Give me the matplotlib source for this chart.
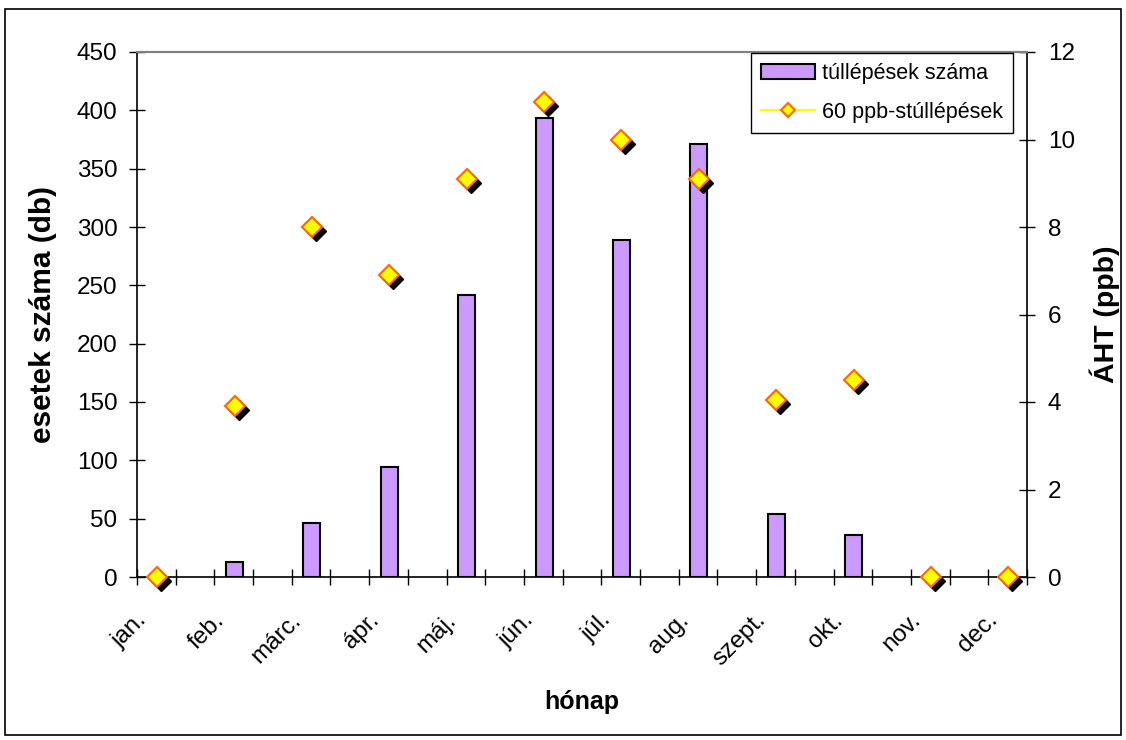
import numpy as np
import matplotlib
matplotlib.use('Agg')
import matplotlib.pyplot as plt
from matplotlib.lines import Line2D
from matplotlib.patches import Patch, Rectangle
from matplotlib.transforms import ScaledTranslation, offset_copy

months = ['jan.', 'feb.', 'márc.', 'ápr.', 'máj.', 'jún.',
          'júl.', 'aug.', 'szept.', 'okt.', 'nov.', 'dec.']
exceedances = [0, 13, 46, 94, 242, 393, 289, 371, 54, 36, 0, 0]
aht_ppb = [0, 3.9, 8.0, 6.9, 9.1, 10.85, 10.0, 9.1, 4.05, 4.5, 0, 0]

plt.rcParams['font.family'] = ['Liberation Sans', 'DejaVu Sans']

fig = plt.figure(figsize=(11.26, 7.40), dpi=100)
W, H = 1126, 740
ax = fig.add_axes([137 / W, 1 - 577 / H, (1027 - 137) / W, (577 - 52) / H])
ax2 = ax.twinx()

x = np.arange(len(months))
ax.bar(x, exceedances, width=0.22, color='#CC99FF', edgecolor='black',
       linewidth=1.5, zorder=3)

# marker drop shadow
shadow = offset_copy(ax2.transData, fig=fig, x=4, y=-4, units='dots')
ax2.plot(x, aht_ppb, linestyle='none', marker='D', markersize=10.5,
         color='black', markeredgecolor='black', transform=shadow,
         clip_on=False, zorder=3)
ax2.plot(x, aht_ppb, linestyle='none', marker='D', markersize=10.5,
         markerfacecolor='#FFFF00', markeredgecolor='#FF6600',
         markeredgewidth=1.5, clip_on=False, zorder=4)

x0 = -0.26
ax.set_xlim(x0, x0 + len(months) - 0.5)
ax.set_ylim(0, 450)
ax2.set_ylim(0, 12)
ax.set_yticks(np.arange(0, 451, 50))
ax2.set_yticks(np.arange(0, 13, 2))
ax.set_xticks(x)
ax.set_xticklabels(months, rotation=45, ha='right', va='top')
ax.set_xticks(np.arange(x0, x0 + len(months) - 0.49, 0.5), minor=True)

ax.tick_params(axis='x', which='major', length=0, pad=23, labelsize=17.5)
ax.tick_params(axis='x', which='minor', direction='inout', length=11,
               width=1, color='black')
ax.tick_params(axis='y', direction='inout', length=12, width=1, pad=8,
               labelsize=17.5)
ax2.tick_params(axis='y', direction='inout', length=12, width=1, pad=9,
                labelsize=17.5)
for lbl in ax.get_xticklabels():
    lbl.set_transform(lbl.get_transform() +
                      ScaledTranslation(-6 / 100, 0, fig.dpi_scale_trans))

for a in (ax, ax2):
    a.spines['top'].set_color('#808080')
    a.spines['top'].set_linewidth(1.5)
ax.spines['right'].set_visible(False)
ax2.spines['left'].set_visible(False)
ax2.spines['bottom'].set_visible(False)
ax.spines['left'].set_linewidth(1.2)
ax.spines['bottom'].set_linewidth(1.2)
ax2.spines['right'].set_linewidth(1.2)

ax.set_ylabel('esetek száma (db)', va='center', fontsize=21.5,
              fontweight='bold')
ax.yaxis.set_label_coords((43 - 137) / 890, 0.5)
ax2.set_ylabel('ÁHT (ppb)', va='center', fontsize=20.5, fontweight='bold')
ax2.yaxis.set_label_coords((1105 - 137) / 890, 0.5)
ax.set_xlabel('hónap', va='center', fontsize=18, fontweight='bold')
ax.xaxis.set_label_coords(0.5, (577 - 702) / 525)

handles = [
    Patch(facecolor='#CC99FF', edgecolor='black', linewidth=1.5),
    Line2D([], [], color='#FFFF00', linewidth=1.5, marker='D', markersize=7,
           markerfacecolor='#FFFF00', markeredgecolor='#FF6600',
           markeredgewidth=1.5),
]
leg = ax2.legend(handles, ['túllépések száma', '60 ppb-stúllépések'],
                 loc='upper right', bbox_to_anchor=(1013 / W, 1 - 53 / H),
                 bbox_transform=fig.transFigure, fontsize=15.5,
                 fancybox=False, framealpha=1, edgecolor='black',
                 borderaxespad=0, borderpad=0.45, handlelength=2.5,
                 handletextpad=0.35, labelspacing=0.85)
leg.get_frame().set_linewidth(1)

fig.patches.append(Rectangle((5 / W, 1 - 735 / H), 1116 / W, 726 / H,
                             transform=fig.transFigure, fill=False,
                             edgecolor='black', linewidth=1.2))

fig.savefig('out.png', dpi=100)
